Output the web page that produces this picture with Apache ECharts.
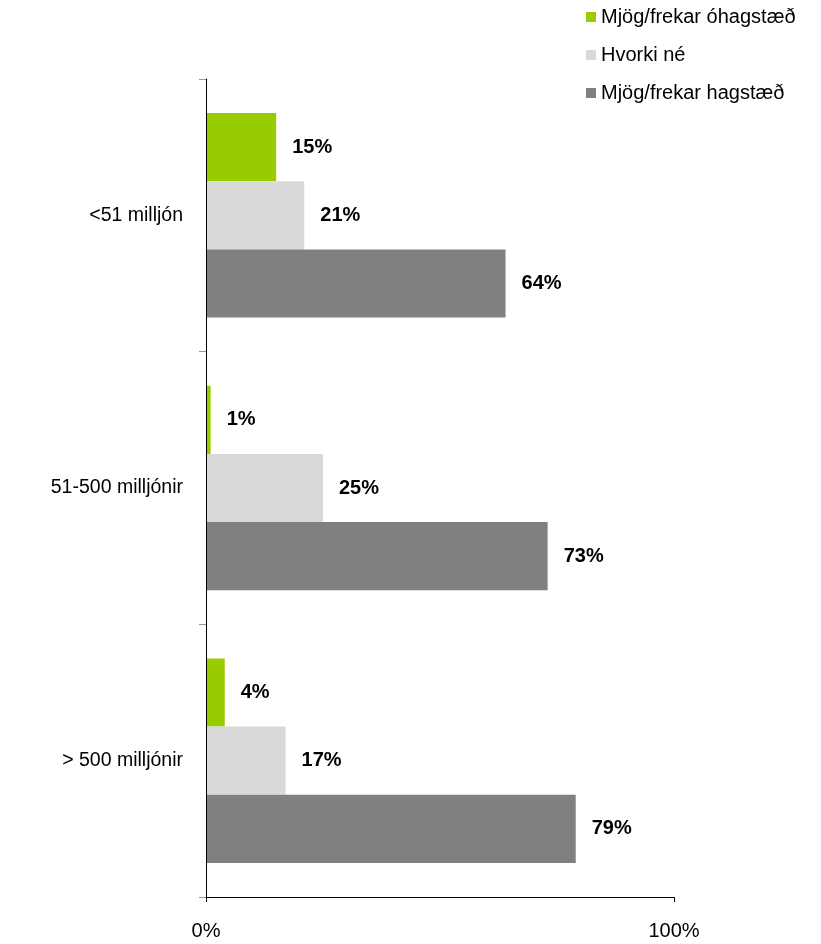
<!DOCTYPE html>
<html><head><meta charset="utf-8">
<script src="https://cdn.jsdelivr.net/npm/echarts@6/dist/echarts.min.js"></script>
<style>html,body{margin:0;padding:0;background:#fff}#c{width:821px;height:944px}</style>
</head><body><div id="c"></div>
<script>
var categories = ['<51 milljón', '51-500 milljónir', '> 500 milljónir'];
var seriesNames = ['Mjög/frekar óhagstæð', 'Hvorki né', 'Mjög/frekar hagstæð'];
var unfavourable = [15, 1, 4];
var neither = [21, 25, 17];
var favourable = [64, 73, 79];
var xTicks = [0, 100];

var colors = ['#99cc00', '#d9d9d9', '#808080'];
var font = 'Arial, "Liberation Sans", sans-serif';
var dataSets = [unfavourable, neither, favourable];

var chart = echarts.init(document.getElementById('c'));
chart.setOption({
  animation: false,
  textStyle: {fontFamily: font},
  legend: {
    orient: 'vertical', left: 581, top: 2,
    itemWidth: 10, itemHeight: 10, itemGap: 18,
    icon: 'rect',
    textStyle: {fontSize: 20, color: '#000', fontFamily: font},
    data: seriesNames
  },
  grid: {left: 206, right: 147, top: 79, bottom: 47},
  xAxis: {
    type: 'value', min: xTicks[0], max: xTicks[1], interval: 100,
    z: 5,
    axisLine: {show: true, lineStyle: {color: '#000', width: 1}},
    axisTick: {show: true, length: 5, lineStyle: {color: '#000'}},
    splitLine: {show: false},
    axisLabel: {formatter: '{value}%', fontSize: 20, color: '#000', margin: 24, fontFamily: font}
  },
  yAxis: {
    type: 'category', data: categories, inverse: true,
    z: 5,
    axisLine: {show: true, lineStyle: {color: '#000', width: 1}},
    axisTick: {show: true, length: 7, lineStyle: {color: '#999'}},
    axisLabel: {fontSize: 19.5, color: '#000', margin: 23, fontFamily: font}
  },
  series: seriesNames.map(function (n, i) {
    return {
      name: n, type: 'bar', data: dataSets[i],
      barGap: '0%', barCategoryGap: '25%',
      itemStyle: {color: colors[i]},
      label: {show: true, position: 'right', distance: 16, formatter: '{c}%',
        fontSize: 20, fontWeight: 'bold', color: '#000', fontFamily: font}
    };
  })
});
</script></body></html>
